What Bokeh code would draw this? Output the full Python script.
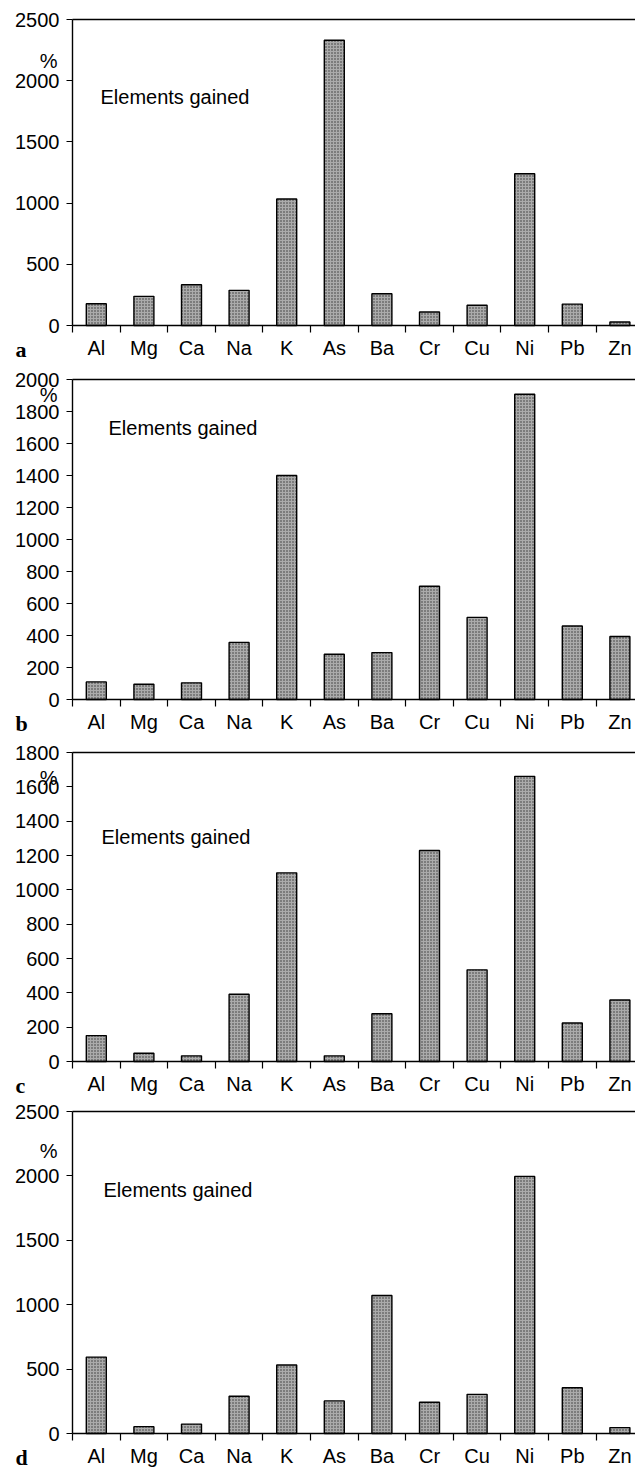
from bokeh.plotting import figure
from bokeh.layouts import column
from bokeh.models import FixedTicker, LinearAxis, Range1d, Label
from bokeh.embed import file_html
from bokeh.resources import INLINE

# ---- data ----
elements = ["Al", "Mg", "Ca", "Na", "K", "As", "Ba", "Cr", "Cu", "Ni", "Pb", "Zn"]
gain_a = [178, 238, 333, 287, 1033, 2330, 260, 110, 165, 1240, 175, 28]
gain_b = [110, 95, 104, 357, 1400, 283, 293, 708, 513, 1908, 459, 394]
gain_c = [151, 48, 33, 392, 1099, 33, 278, 1229, 534, 1661, 224, 358]
gain_d = [593, 53, 73, 289, 532, 253, 1071, 243, 304, 1996, 355, 46]
y_max = [2500, 2000, 1800, 2500]
y_step = [500, 200, 200, 500]
panel_letters = ["a", "b", "c", "d"]
note_text = "Elements gained"
unit_text = "%"
# vertical placement (data units) of the "%" sign and of the note
pct_pos = [2165, 1906, 1654, 2196]
note_pos = [1865, 1694, 1307, 1892]

FONT = "Liberation Sans"
FS = "20px"

# page layout in pixels: (figure top, figure bottom, top line, zero line, note x offset)
layouts = [
    (0, 366, 19, 325, 28),
    (366, 740, 379, 699, 36),
    (740, 1101, 752, 1061, 29),
    (1101, 1472, 1111, 1433, 31),
]
FIG_W = 635
AXIS_PX = 72        # y-axis position from left edge of figure
CAT_PX = 47.6       # width of one category slot


def make_panel(values, ymax, ystep, letter, pct_y, note_y, lay):
    f_top, f_bot, line_top, zero_line, note_dx = lay
    H = f_bot - f_top
    top_px = line_top - f_top
    zero_px = zero_line - f_top
    upp = ymax / (zero_px - top_px)
    y_hi = ymax + top_px * upp
    y_lo = -(H - zero_px) * upp
    x_lo = -0.5 - AXIS_PX / CAT_PX
    x_hi = -0.5 + (FIG_W - AXIS_PX) / CAT_PX

    idx = list(range(len(elements)))
    p = figure(width=FIG_W, height=H,
               x_range=Range1d(x_lo, x_hi), y_range=Range1d(y_lo, y_hi),
               x_axis_location=None, y_axis_location=None,
               min_border=0, output_backend="svg", toolbar_location=None,
               background_fill_color="white", border_fill_color="white")
    p.outline_line_color = None
    p.grid.visible = False

    p.vbar(x=idx, top=values, width=0.42, bottom=0,
           fill_color="#ababab", line_color="black", line_width=1.4,
           hatch_pattern="dot", hatch_color="#333333", hatch_scale=3, hatch_weight=1)

    # x axis at y = 0: element names at centres, ticks at slot boundaries
    xa = LinearAxis(fixed_location=0, bounds=(-0.5, x_hi))
    xa.ticker = FixedTicker(ticks=idx, minor_ticks=[i - 0.5 for i in idx])
    xa.major_label_overrides = {i: e for i, e in zip(idx, elements)}
    xa.major_tick_out = 0
    xa.major_tick_in = 0
    xa.minor_tick_out = 7
    xa.minor_tick_in = 0
    xa.minor_tick_line_color = "black"
    xa.minor_tick_line_width = 1.2
    xa.axis_line_color = "black"
    xa.axis_line_width = 1.4
    xa.major_label_standoff = 4
    xa.major_label_text_font = FONT
    xa.major_label_text_font_size = FS
    xa.major_label_text_color = "black"
    p.add_layout(xa, "below")

    ya = LinearAxis(fixed_location=-0.5, bounds=(0, ymax))
    ya.ticker = FixedTicker(ticks=list(range(0, ymax + 1, ystep)))
    ya.minor_tick_line_color = None
    ya.major_tick_out = 6
    ya.major_tick_in = 0
    ya.major_tick_line_color = "black"
    ya.major_tick_line_width = 1.2
    ya.axis_line_color = "black"
    ya.axis_line_width = 1.4
    ya.major_label_standoff = 7
    ya.major_label_text_font = FONT
    ya.major_label_text_font_size = FS
    ya.major_label_text_color = "black"
    p.add_layout(ya, "left")

    top = LinearAxis(fixed_location=ymax, bounds=(-0.5, x_hi),
                     ticker=FixedTicker(ticks=[]), major_label_text_font_size="0px",
                     major_tick_out=0, major_tick_in=0, minor_tick_out=0, minor_tick_in=0,
                     axis_line_color="black", axis_line_width=1.4)
    p.add_layout(top, "above")

    p.add_layout(Label(x=-0.5, y=pct_y, x_offset=-15, text=unit_text,
                       text_align="right", text_baseline="alphabetic",
                       text_font=FONT, text_font_size=FS, text_color="black"))
    p.add_layout(Label(x=-0.5, y=note_y, x_offset=note_dx, text=note_text,
                       text_align="left", text_baseline="alphabetic",
                       text_font=FONT, text_font_size=FS, text_color="black"))
    p.add_layout(Label(x=-0.5, y=0, x_offset=-57, y_offset=-24, text=letter,
                       text_align="left", text_baseline="middle",
                       text_font="Liberation Serif", text_font_style="bold",
                       text_font_size="22px", text_color="black"))
    return p


series = [gain_a, gain_b, gain_c, gain_d]
panels = [make_panel(v, m, s, l, pc, nt, lay)
          for v, m, s, l, pc, nt, lay in zip(series, y_max, y_step, panel_letters,
                                             pct_pos, note_pos, layouts)]

layout = column(*panels, spacing=0)
open("out.html", "w").write(file_html(layout, INLINE))
